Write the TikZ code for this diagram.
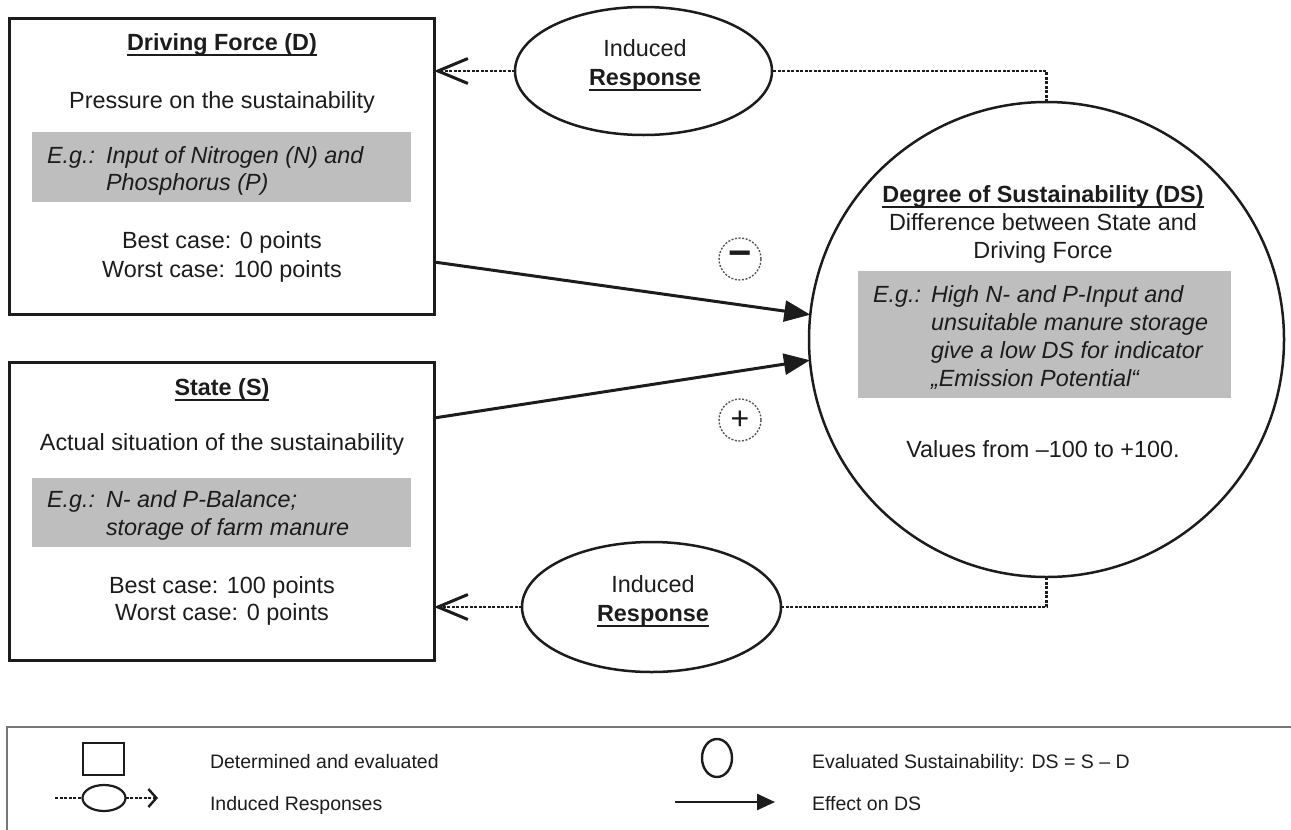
\documentclass[tikz,border=0pt]{standalone}
\usepackage{fontspec}
\setmainfont{Liberation Sans}
\usetikzlibrary{arrows.meta,shapes.geometric}

\definecolor{boxgray}{RGB}{190,190,190}
\definecolor{ink}{RGB}{28,28,28}

% bold title with a heavy underline running through the descenders
\newsavebox\ulbox
\newcommand\ultitle[1]{\sbox\ulbox{\textbf{#1}}\rlap{\rule[-5.5pt]{\wd\ulbox}{2pt}}\usebox\ulbox}

\begin{document}
\begin{tikzpicture}[x=1pt,y=-1pt,
  every node/.style={inner sep=0pt, outer sep=0pt, text=ink},
  txt/.style={font=\fontsize{23.4}{28}\selectfont, anchor=base},
  egtxt/.style={font=\fontsize{23.4}{28}\selectfont\itshape, anchor=base west},
  legtxt/.style={font=\fontsize{19.5}{23}\selectfont, anchor=base west},
  mainbox/.style={draw=ink, line width=3pt, minimum width=425pt},
  greybox/.style={fill=boxgray, minimum width=379pt},
  response/.style={draw=ink, ellipse, line width=2.5pt},
  induced/.style={draw=ink, line width=2.6pt, dash pattern=on 3pt off 1.5pt},
  barb/.style={-{Straight Barb[length=30pt,width=25pt,line width=3pt]}},
  effect/.style={draw=ink, line width=3pt, -{Triangle[length=26pt,width=21pt]}},
  signring/.style={circle, draw=ink!75, dash pattern=on 2pt off 1.6pt, line width=1.4pt,
    minimum size=42pt}
]
\clip (0,0) rectangle (1291,830);

% ---------- Driving Force ----------
\node[mainbox, minimum height=296pt] (D) at (221.5,166) {};
\node[txt] (Dtitle) at (222,50) {\ultitle{Driving Force (D)}};
\node[txt] (Dsub) at (222,108) {Pressure on the sustainability};
\node[greybox, minimum height=70pt] (Dex) at (221.5,167) {};
\node[egtxt] (Deg) at (47,163) {E.g.:};
\node[egtxt] (Dex1) at (106,163) {Input of Nitrogen (N) and};
\node[egtxt] (Dex2) at (106,190) {Phosphorus (P)};
\node[txt] (Dbest) at (222,248) {Best case: 0 points};
\node[txt] (Dworst) at (222,277) {Worst case: 100 points};

% ---------- State ----------
\node[mainbox, minimum height=298pt] (S) at (221.5,511) {};
\node[txt] (Stitle) at (222,395) {\ultitle{State (S)}};
\node[txt] (Ssub) at (222,450) {Actual situation of the sustainability};
\node[greybox, minimum height=69pt] (Sex) at (221.5,512.5) {};
\node[egtxt] (Seg) at (47,507) {E.g.:};
\node[egtxt] (Sex1) at (106,507) {N- and P-Balance;};
\node[egtxt] (Sex2) at (106,535) {storage of farm manure};
\node[txt] (Sbest) at (222,593) {Best case: 100 points};
\node[txt] (Sworst) at (222,620) {Worst case: 0 points};

% ---------- Degree of Sustainability ----------
\node[circle, draw=ink, line width=2.5pt, minimum size=475pt] (DS) at (1046.5,339.5) {};
\node[txt] (DStitle) at (1043,202) {\ultitle{Degree of Sustainability (DS)}};
\node[txt] (DSsub1) at (1043,230) {Difference between State and};
\node[txt] (DSsub2) at (1043,258) {Driving Force};
\node[greybox, minimum width=373pt, minimum height=127pt] (DSex) at (1044.5,334.5) {};
\node[egtxt] (DSeg) at (873,302) {E.g.:};
\node[egtxt] (DSex1) at (931,302) {High N- and P-Input and};
\node[egtxt] (DSex2) at (931,330) {unsuitable manure storage};
\node[egtxt] (DSex3) at (931,358) {give a low DS for indicator};
\node[egtxt] (DSex4) at (931,386) {„Emission Potential“};
\node[txt] (DSval) at (1043,457) {Values from –100 to +100.};

% ---------- Induced responses ----------
\node[response, minimum width=257pt, minimum height=128pt] (IRtop) at (643.5,71) {};
\node[txt] (IRtop1) at (645,56) {Induced};
\node[txt] (IRtop2) at (645,85) {\ultitle{Response}};
\node[response, minimum width=259pt, minimum height=130pt] (IRbot) at (651.5,607) {};
\node[txt] (IRbot1) at (653,592) {Induced};
\node[txt] (IRbot2) at (653,621) {\ultitle{Response}};

\draw[induced] (DS.north) |- (IRtop.east);
\draw[induced, barb] (IRtop.west) -- (IRtop.west -| D.east);
\draw[induced] (DS.south) |- (IRbot.east);
\draw[induced, barb] (IRbot.west) -- (IRbot.west -| S.east);

% ---------- effects on DS ----------
\coordinate (Dout) at (434,262);
\coordinate (Sout) at (434,418);
\draw[effect] (Dout) -- (DS.174.7);
\draw[effect] (Sout) -- (DS.185.3);
\node[signring, font=\fontsize{40}{40}\selectfont\bfseries] (minus) at (740,259) {−};
\node[signring, font=\fontsize{32}{32}\selectfont] (plus) at (740,420) {+};

% ---------- key ----------
\node[draw=ink!60, line width=2.5pt, minimum width=1300pt, minimum height=200pt, anchor=north west] (key) at (7,727) {};
\node[draw=ink, line width=2.4pt, minimum width=41pt, minimum height=32pt] (keybox) at (103.5,759) {};
\node[legtxt] (keyboxtxt) at (210,768) {Determined and evaluated};
\node[response, line width=2.2pt, minimum width=43pt, minimum height=26pt] (keyell) at (104,798) {};
\coordinate (keyin) at (55,798);
\coordinate (keyout) at (158,798);
\draw[induced, line width=2pt] (keyin) -- (keyell.west);
\draw[induced, line width=2pt, -{Straight Barb[length=8pt,width=18pt,line width=2.4pt]}] (keyell.east) -- (keyout);
\node[legtxt] (keyelltxt) at (210,810) {Induced Responses};
\node[ellipse, draw=ink, line width=2.4pt, minimum width=30pt, minimum height=38pt] (keycirc) at (717,758) {};
\node[legtxt] (keycirctxt) at (812,768) {Evaluated Sustainability: DS = S – D};
\coordinate (keyfrom) at (675,802);
\coordinate (keyto) at (775,802);
\draw[effect, line width=2.6pt, -{Triangle[length=18pt,width=16pt]}] (keyfrom) -- (keyto);
\node[legtxt] (keyarrtxt) at (812,810) {Effect on DS};
\end{tikzpicture}
\end{document}
